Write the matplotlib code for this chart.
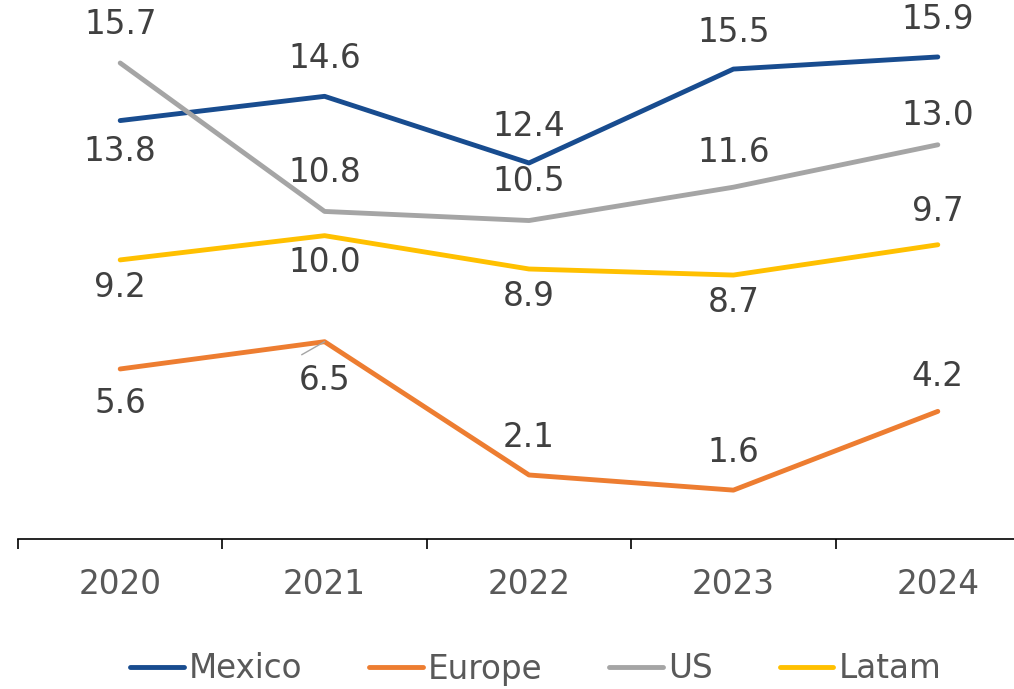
import matplotlib.pyplot as plt
import numpy as np

years = ['2020', '2021', '2022', '2023', '2024']
mexico = [13.8, 14.6, 12.4, 15.5, 15.9]
europe = [5.6, 6.5, 2.1, 1.6, 4.2]
us = [15.7, 10.8, 10.5, 11.6, 13.0]
latam = [9.2, 10.0, 8.9, 8.7, 9.7]

# label offsets in points (+ above, - below the point)
mexico_off = [-22, 27, 26, 26, 27]
europe_off = [-25, -28, 27, 27, 25]
us_off = [28, 28, 28, 25, 21]
latam_off = [-20, -19, -20, -20, 24]

series = [
    ('Mexico', mexico, mexico_off, '#184C8F'),
    ('Europe', europe, europe_off, '#ED7D31'),
    ('US', us, us_off, '#A5A5A5'),
    ('Latam', latam, latam_off, '#FFC000'),
]

plt.rcParams['font.family'] = ['DejaVu Sans']
fs = 23.5

fig = plt.figure(figsize=(10.14, 6.89), dpi=100)
ax = fig.add_axes([18/1014, 150.4/689, 1022/1014, 538.6/689])

x = np.arange(len(years))
for name, vals, offs, col in series:
    ax.plot(x, vals, color=col, lw=3.5, label=name, solid_capstyle='round')
    for xi, v, o in zip(x, vals, offs):
        ax.annotate(f'{v:.1f}', xy=(xi, v), xytext=(0, o), textcoords='offset points',
                    ha='center', va='center', fontsize=fs, color='#404040')

# leader line for Europe 2021
ax.annotate('', xy=(1, 6.5), xytext=(-16.5, -9.4), textcoords='offset points',
            arrowprops=dict(arrowstyle='-', color='#A5A5A5', lw=1, shrinkA=0, shrinkB=0))

ax.set_xlim(-0.5, 4.5)
ax.set_ylim(0, 17.78)
ax.set_xticks(np.arange(-0.5, 5, 1))
ax.set_xticklabels([])
ax.set_xticks(x, minor=True)
ax.set_xticklabels(years, minor=True)
ax.tick_params(axis='x', which='major', length=7, width=1.2, direction='out', color='black')
ax.tick_params(axis='x', which='minor', length=0, pad=21, labelsize=fs, labelcolor='#595959')
ax.set_yticks([])
for s in ['left', 'right', 'top']:
    ax.spines[s].set_visible(False)
ax.spines['bottom'].set_linewidth(1.2)

fig.legend(loc='center', bbox_to_anchor=(0.528, 1 - 669/689), ncol=4, frameon=False,
           fontsize=fs, handlelength=1.65, handletextpad=0.15, columnspacing=2.05,
           labelcolor='#595959')

fig.savefig('out.png', dpi=100)
